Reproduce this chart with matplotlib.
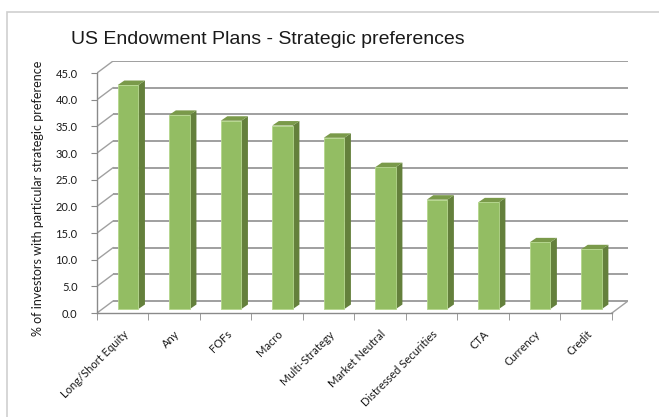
import matplotlib.pyplot as plt
from matplotlib.patches import Polygon, Rectangle

# data
categories = ["Long/Short Equity", "Any", "FOFs", "Macro", "Multi-Strategy",
              "Market Neutral", "Distressed Securities", "CTA", "Currency", "Credit"]
values = [42.0, 36.4, 35.3, 34.4, 32.1, 26.6, 20.5, 20.0, 12.5, 11.2]
yticks = [0, 5, 10, 15, 20, 25, 30, 35, 40, 45]
ytick_labels = ["%.1f" % v for v in yticks]

W, H = 659, 417
fig = plt.figure(figsize=(W / 100, H / 100), dpi=100)

# outer chart border (runs off the right and bottom edges)
fig.add_artist(Rectangle((7 / W, -0.1), 1.2, (H - 12) / H + 0.1,
                         transform=fig.transFigure, fill=False,
                         ec="#cfcfcf", lw=1.2))

# fake 3d: depth offset of the back wall, in data units
DX, DY = 0.312, 2.25
BF = 1 / 3            # where the bar front sits inside the depth
BDX, BDY = 0.127, 0.84  # bar depth
bw = 0.4

ax = fig.add_axes([97 / W, (H - 313) / H, 531 / W, 252 / H])
ax.set_xlim(0, 10 + DX)
ax.set_ylim(0, 45 + DY)
ax.patch.set_alpha(0)

# back wall gridlines
ax.hlines([v + DY for v in yticks], DX, 10 + DX, color="#8f8f8f", lw=1.2, zorder=1)
# side wall diagonals
for v in yticks:
    ax.plot([0, DX], [v, v + DY], color="#a0a0a0", lw=1, zorder=1)
ax.plot([10, 10 + DX], [0, DY], color="#a0a0a0", lw=1, zorder=1)

front = "#93bd63"
side = "#64803c"
top = "#7a9a4a"
for i, v in enumerate(values):
    x0 = i + 0.5 - bw / 2 + BF * DX
    x1 = x0 + bw
    b = BF * DY
    ax.bar(x0 + bw / 2, v, width=bw, bottom=b, color=front,
           edgecolor="#b4d68c", lw=0.6, zorder=4)
    ax.add_patch(Polygon([(x1, b), (x1 + BDX, b + BDY), (x1 + BDX, b + v + BDY), (x1, b + v)],
                         closed=True, fc=side, ec="none", zorder=3))
    ax.add_patch(Polygon([(x0, b + v), (x0 + BDX, b + v + BDY), (x1 + BDX, b + v + BDY), (x1, b + v)],
                         closed=True, fc=top, ec="none", zorder=3))

for s in ["top", "right"]:
    ax.spines[s].set_visible(False)
ax.spines["left"].set_bounds(0, 45)
ax.spines["bottom"].set_bounds(0, 10)
for s in ["left", "bottom"]:
    ax.spines[s].set_color("#8a8a8a")
    ax.spines[s].set_linewidth(1)

ax.set_yticks(yticks)
ax.set_yticklabels(ytick_labels, fontfamily="Lato", fontsize=8, color="#1a1a1a")
ax.tick_params(axis="y", length=4, color="#8a8a8a", pad=10)

ax.set_xticks([i + 0.5 for i in range(10)])
ax.set_xticklabels(categories, rotation=45, ha="right", rotation_mode="anchor",
                   fontfamily="Lato", fontsize=8, color="#1a1a1a")
ax.set_xticks(range(11), minor=True)
ax.tick_params(axis="x", which="major", length=0, pad=11)
ax.tick_params(axis="x", which="minor", length=5, color="#8a8a8a")

fig.text(38 / W, 1 - 198 / H, "% of investors with particular strategic preference",
         rotation=90, ha="center", va="center", fontfamily="Lato", fontsize=9,
         color="#1a1a1a")

fig.text(268 / W, 1 - 39 / H, "US Endowment Plans - Strategic preferences",
         ha="center", va="center", fontfamily="Liberation Sans", fontsize=14,
         color="#1a1a1a")

fig.savefig("out.png", dpi=100)
